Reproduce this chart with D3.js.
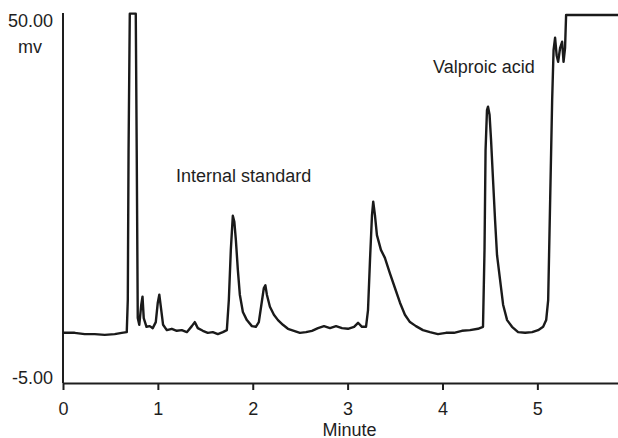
<!DOCTYPE html>
<html>
<head>
<meta charset="utf-8">
<title>Chromatogram</title>
<script src="https://cdn.jsdelivr.net/npm/d3@7"></script>
<style>
  body{ margin:0; background:#fff; }
  svg text{ font-family:"Liberation Sans", Arial, Helvetica, sans-serif; fill:#1e1e1e; }
</style>
</head>
<body>
<div id="container"></div>
<script>
// retention time (min) and detector signal (mv)
var timeMin = [0, 0.123, 0.229, 0.334, 0.440, 0.545, 0.619, 0.672, 0.683, 0.691, 0.704, 0.735, 0.767, 0.777, 0.788,
  0.804, 0.825, 0.838, 0.851, 0.880, 0.915, 0.946, 0.978, 0.999, 1.015, 1.031, 1.055, 1.094, 1.147, 1.199,
  1.252, 1.305, 1.358, 1.389, 1.421, 1.474, 1.526, 1.579, 1.632, 1.685, 1.727, 1.748, 1.769, 1.790, 1.806,
  1.822, 1.843, 1.864, 1.896, 1.938, 1.991, 2.033, 2.064, 2.091, 2.117, 2.133, 2.149, 2.181, 2.223, 2.266,
  2.318, 2.371, 2.434, 2.497, 2.561, 2.624, 2.688, 2.751, 2.814, 2.878, 2.941, 3.004, 3.068, 3.110, 3.151,
  3.194, 3.215, 3.236, 3.257, 3.270, 3.288, 3.309, 3.351, 3.393, 3.446, 3.499, 3.552, 3.604, 3.657, 3.720,
  3.794, 3.868, 3.952, 4.037, 4.121, 4.205, 4.290, 4.374, 4.427, 4.443, 4.454, 4.469, 4.480, 4.496, 4.512,
  4.533, 4.554, 4.575, 4.607, 4.639, 4.681, 4.733, 4.797, 4.871, 4.945, 5.008, 5.061, 5.093, 5.114, 5.135,
  5.156, 5.171, 5.187, 5.203, 5.219, 5.240, 5.261, 5.276, 5.292, 5.303, 5.851];
var signalMv = [2.5, 2.5, 2.3, 2.3, 2.2, 2.3, 2.5, 2.6, 7.4, 29.8, 50.2, 50.2, 50.2, 29.8, 4.7,
  3.7, 6.7, 7.9, 4.7, 3.4, 3.5, 3.2, 4.1, 7.0, 8.2, 6.4, 3.7, 2.9, 3.1, 2.8,
  2.9, 2.6, 3.5, 4.1, 3.2, 2.8, 2.5, 2.6, 2.3, 2.6, 2.9, 7.4, 14.9, 20.0, 19.1,
  16.4, 11.9, 8.2, 5.6, 4.4, 3.5, 3.4, 4.1, 6.7, 9.2, 9.6, 8.2, 6.4, 5.2, 4.4,
  3.7, 3.1, 2.8, 2.5, 2.6, 2.8, 3.2, 3.5, 3.2, 3.5, 3.2, 3.1, 3.4, 4.0, 3.4,
  3.4, 5.9, 13.4, 20.1, 22.1, 20.1, 17.1, 14.9, 13.7, 11.4, 9.2, 7.0, 5.2, 4.1, 3.5,
  2.9, 2.6, 2.3, 2.5, 2.5, 2.8, 2.9, 3.1, 3.4, 14.9, 29.8, 35.8, 36.3, 35.1, 31.3,
  25.3, 19.4, 14.1, 10.4, 6.7, 4.4, 3.4, 2.6, 2.5, 2.6, 2.9, 3.4, 4.4, 7.4, 22.4,
  37.3, 44.8, 46.6, 44.0, 43.0, 45.1, 46.0, 43.0, 45.1, 50.0, 50.0];

var xTicks = [0, 1, 2, 3, 4, 5];
var yTicks = [-5, 50];
var peakNames = ["Internal standard", "Valproic acid"];

var margin = {top: 15, right: 0, bottom: 55, left: 63},
    width = 618 - margin.left - margin.right,
    height = 438 - margin.top - margin.bottom;

var svg = d3.select("#container").append("svg")
    .attr("width", 618)
    .attr("height", 438);

var g = svg.append("g")
    .attr("transform", "translate(" + margin.left + "," + margin.top + ")");

var xScale = d3.scaleLinear().domain([0, 5.85]).range([0, width]);
var yScale = d3.scaleLinear().domain([-5, 50]).range([height, 0]);

var dat = timeMin.map(function(t, i){ return {t: t, v: signalMv[i]}; });

// x axis
var xAxis = d3.axisBottom(xScale).tickValues(xTicks).tickFormat(d3.format("d"))
    .tickSize(7).tickSizeOuter(0).tickPadding(12);
g.append("g")
    .attr("class", "x-ax")
    .attr("transform", "translate(0," + height + ")")
    .call(xAxis);

// y axis, labels only (plain hyphen as in the original)
var yAxis = d3.axisLeft(yScale).tickValues(yTicks)
    .tickFormat(function(d){ return d.toFixed(2); })
    .tickSize(0).tickSizeOuter(0).tickPadding(10);
g.append("g")
    .attr("class", "y-ax")
    .call(yAxis);

g.selectAll(".domain").attr("stroke", "#1e1e1e").attr("stroke-width", 2);
g.selectAll(".tick line").attr("stroke", "#1e1e1e").attr("stroke-width", 2);
g.selectAll(".tick text").style("font-size", "18px").attr("fill", "#1e1e1e");
g.selectAll(".y-ax .tick text").attr("dy", function(d){ return d == 50 ? "0.62em" : "0"; });

// extend y axis slightly above top
g.select(".y-ax .domain").attr("d", "M0," + height + "V-2");

g.append("text")
    .attr("x", -33)
    .attr("y", 38)
    .attr("text-anchor", "middle")
    .style("font-size", "18px")
    .text("mv");

g.append("text")
    .attr("x", (xScale(3) + 2))
    .attr("y", height + 52.5)
    .attr("text-anchor", "middle")
    .style("font-size", "18px")
    .text("Minute");

// trace
var line = d3.line()
    .x(function(d){ return xScale(d.t); })
    .y(function(d){ return yScale(d.v); });

g.append("path")
    .datum(dat)
    .attr("d", line)
    .attr("fill", "none")
    .attr("stroke", "#1a1a1a")
    .attr("stroke-width", 2.4)
    .attr("stroke-linejoin", "round");

// peak labels
g.append("text")
    .attr("x", xScale(1.192))
    .attr("y", yScale(25.1))
    .style("font-size", "18px")
    .text(peakNames[0]);

g.append("text")
    .attr("x", xScale(3.900))
    .attr("y", yScale(41.3))
    .style("font-size", "18px")
    .text(peakNames[1]);
</script>
</body>
</html>
